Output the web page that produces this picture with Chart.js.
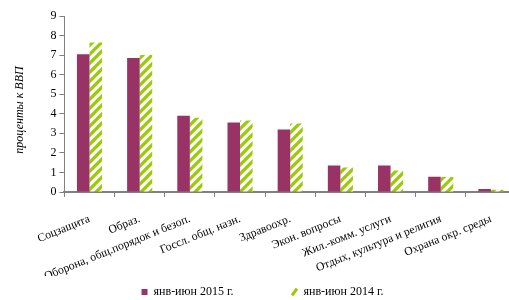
<!DOCTYPE html>
<html lang="ru">
<head>
<meta charset="UTF-8">
<script src="https://cdn.jsdelivr.net/npm/chart.js@4"></script>
<style>
  html, body { margin: 0; padding: 0; background: #fff; overflow: hidden; }
  #wrap { width: 516px; height: 300px; position: relative; }
</style>
</head>
<body>
<div id="wrap"><canvas id="chart"></canvas></div>
<script>
// данные
var categories = ["Соцзащита", "Образ.", "Оборона, общ.порядок и безоп.", "Госсл. общ. назн.",
  "Здравоохр.", "Экон. вопросы", "Жил.-комм. услуги", "Отдых, культура и религия", "Охрана окр. среды"];
var values2015 = [7.05, 6.85, 3.9, 3.55, 3.2, 1.35, 1.35, 0.78, 0.15];
var values2014 = [7.65, 7.0, 3.8, 3.65, 3.5, 1.25, 1.1, 0.77, 0.12];
var seriesLabels = ["янв-июн 2015 г.", "янв-июн 2014 г."];
var yTicks = [0, 1, 2, 3, 4, 5, 6, 7, 8, 9];

var purple = "#993366";
var green = "#99cc00";

// штриховка для второго ряда
function hatch() {
  var s = 9;
  var c = document.createElement("canvas");
  c.width = s; c.height = s;
  var g = c.getContext("2d");
  g.fillStyle = "#fff";
  g.fillRect(0, 0, s, s);
  g.strokeStyle = green;
  g.lineWidth = 3.2;
  g.beginPath();
  g.moveTo(-1, s + 1); g.lineTo(s + 1, -1);
  g.moveTo(-s / 2 - 1, s / 2 + 1); g.lineTo(s / 2 + 1, -s / 2 - 1);
  g.moveTo(s / 2 - 1, s * 1.5 + 1); g.lineTo(s * 1.5 + 1, s / 2 - 1);
  g.stroke();
  return document.getElementById("chart").getContext("2d").createPattern(c, "repeat");
}

var serif = "'Liberation Serif', 'Times New Roman', serif";

new Chart(document.getElementById("chart"), {
  type: "bar",
  data: {
    labels: categories,
    datasets: [
      { label: seriesLabels[0], data: values2015, backgroundColor: purple,
        categoryPercentage: 0.5, barPercentage: 1.0 },
      { label: seriesLabels[1], data: values2014, backgroundColor: hatch(),
        categoryPercentage: 0.5, barPercentage: 1.0 }
    ]
  },
  options: {
    responsive: true,
    maintainAspectRatio: false,
    animation: false,
    layout: { padding: { left: 9, top: 16, right: 0, bottom: -8 } },
    plugins: {
      tooltip: { enabled: false },
      legend: {
        position: "bottom",
        labels: {
          font: { family: serif, size: 12 },
          color: "#000",
          padding: 10,
          boxWidth: 6,
          boxHeight: 6,
          generateLabels: function (chart) {
            return [
              { text: seriesLabels[0] + "\u2003\u2003\u2003\u2003", fillStyle: purple, strokeStyle: purple, lineWidth: 0,
                datasetIndex: 0, pointStyle: "rect", rotation: 0, fontColor: "#000" },
              { text: seriesLabels[1], fillStyle: green, strokeStyle: green, lineWidth: 3,
                datasetIndex: 1, pointStyle: "line", rotation: -55, fontColor: "#000" }
            ];
          },
          usePointStyle: true
        }
      }
    },
    scales: {
      x: {
        grid: { display: true, drawOnChartArea: false, tickLength: 5, color: "#808080", offset: true },
        border: { color: "#808080", width: 2 },
        afterFit: function (scale) { scale.height = 84; },
        ticks: {
          font: { family: serif, size: 11.7 },
          color: "#000",
          minRotation: 22,
          maxRotation: 22,
          autoSkip: false,
          padding: 15,
          labelOffset: 0
        }
      },
      y: {
        min: 0,
        max: 9,
        afterBuildTicks: function (axis) {
          axis.ticks = yTicks.map(function (v) { return { value: v }; });
        },
        grid: { display: true, drawOnChartArea: false, tickLength: 5, color: "#808080" },
        border: { color: "#808080", width: 1 },
        ticks: { font: { family: serif, size: 12 }, color: "#000", padding: 3 },
        title: {
          display: true,
          text: "проценты к ВВП\u2002\u2002",
          font: { family: serif, size: 12, style: "italic" },
          color: "#000",
          padding: { bottom: 20 }
        }
      }
    }
  }
});
</script>
</body>
</html>
